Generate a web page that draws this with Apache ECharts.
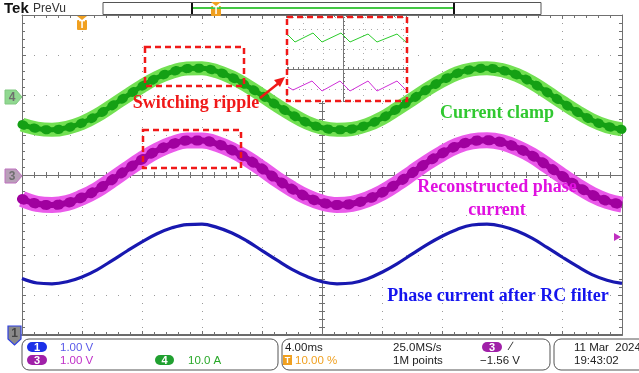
<!DOCTYPE html>
<html><head><meta charset="utf-8">
<script src="https://cdn.jsdelivr.net/npm/echarts@6/dist/echarts.min.js"></script>
<style>html,body{margin:0;padding:0;background:#fff}#c{width:639px;height:373px}</style>
</head><body><div id="c"></div><script>
// Horizontal position in divisions (4.00 ms/div), 0 = screen centre, read every 1/4 division
const timeDiv = [-5,-4.75,-4.5,-4.25,-4,-3.75,-3.5,-3.25,-3,-2.75,-2.5,-2.25,-2,-1.75,-1.5,-1.25,-1,-0.75,-0.5,-0.25,
  0,0.25,0.5,0.75,1,1.25,1.5,1.75,2,2.25,2.5,2.75,3,3.25,3.5,3.75,4,4.25,4.5,4.75,5];
// Ch4 current clamp, vertical divisions
const clampCurrent = [1.26,1.16,1.13,1.18,1.30,1.49,1.73,1.98,2.22,2.43,2.58,2.66,2.67,2.59,2.44,2.23,1.99,1.74,1.51,1.31,
  1.18,1.13,1.15,1.25,1.42,1.65,1.89,2.14,2.36,2.54,2.64,2.67,2.62,2.50,2.31,2.07,1.82,1.58,1.37,1.22,1.14];
// Ch3 reconstructed phase current
const reconCurrent = [-0.60,-0.72,-0.75,-0.70,-0.56,-0.37,-0.12,0.14,0.39,0.61,0.77,0.86,0.86,0.78,0.62,0.41,0.16,-0.11,-0.35,-0.55,
  -0.69,-0.75,-0.72,-0.61,-0.44,-0.21,0.05,0.31,0.54,0.73,0.84,0.87,0.82,0.68,0.49,0.24,-0.02,-0.27,-0.49,-0.65,-0.74];
// Ch1 phase current after RC filter
const filteredCurrent = [-2.59,-2.70,-2.72,-2.67,-2.55,-2.37,-2.14,-1.90,-1.67,-1.47,-1.32,-1.24,-1.23,-1.31,-1.45,-1.65,-1.89,-2.13,-2.36,-2.54,
  -2.67,-2.72,-2.70,-2.60,-2.43,-2.22,-1.98,-1.74,-1.53,-1.36,-1.25,-1.23,-1.28,-1.40,-1.58,-1.81,-2.05,-2.28,-2.49,-2.63,-2.71];

// Zoomed view of the switching ripple
const zoomClampT = [-2.75,-2.4,-1.5,-1.05,-0.1,0.35,1.25,1.7,2.7,3.2];
const zoomClampV = [1.7,1.35,1.8,1.35,1.8,1.35,1.75,1.35,1.75,1.3];
const zoomReconT = [-2.75,-2.5,-1.55,-1.05,-0.15,0.35,1.25,1.7,2.7,3.2];
const zoomReconV = [-0.9,-1.05,-0.6,-1.1,-0.6,-1.1,-0.6,-1.1,-0.6,-1.1];

const pairs = (xs, ys) => xs.map((x, i) => [x, ys[i]]);

const FRAME = '#707070', GRIDC = '#9a9a9a';

function xAx(extra) {
  return Object.assign({
    type: 'value', gridIndex: 0, min: -5, max: 5, interval: 1,
    axisLabel: { show: false },
    axisLine: { show: true, onZero: false, lineStyle: { color: FRAME, width: 1 } },
    axisTick: { show: true, inside: true, length: 4, lineStyle: { color: FRAME } },
    minorTick: { show: true, splitNumber: 5, length: 3, lineStyle: { color: FRAME } },
    splitLine: { show: false }
  }, extra);
}
function yAx(extra) {
  return Object.assign({
    type: 'value', gridIndex: 0, min: -4, max: 4, interval: 1,
    axisLabel: { show: false },
    axisLine: { show: true, onZero: false, lineStyle: { color: FRAME, width: 1 } },
    axisTick: { show: true, inside: true, length: 4, lineStyle: { color: FRAME } },
    minorTick: { show: true, splitNumber: 5, length: 3, lineStyle: { color: FRAME } },
    splitLine: { show: false }
  }, extra);
}
const centreLine = (idx) => ({ show: true, onZero: true, onZeroAxisIndex: idx, lineStyle: { color: FRAME, width: 1 } });

const xAxis = [
  xAx({ position: 'bottom', axisLine: { show: true, onZero: false, lineStyle: { color: '#6a6a6a', width: 2 } },
        splitLine: { show: true, lineStyle: { color: GRIDC, width: 1, type: [1, 7] } } }),
  xAx({ position: 'top' }),
  xAx({ position: 'bottom', axisLine: centreLine(0), axisTick: { show: true, inside: true, length: 3, lineStyle: { color: FRAME } } }),
  xAx({ position: 'bottom', axisLine: centreLine(0), axisTick: { show: true, inside: false, length: 3, lineStyle: { color: FRAME } } }),
  // zoomed view
  { type: 'value', gridIndex: 1, min: -2.8, max: 3.2, z: 5, axisLabel: { show: false },
    axisLine: { show: true, onZero: true, onZeroAxisIndex: 4, lineStyle: { color: '#777' } },
    axisTick: { show: true, inside: true, length: 2, lineStyle: { color: '#777' } },
    minorTick: { show: true, splitNumber: 4, length: 2, lineStyle: { color: '#777' } },
    splitLine: { show: true, lineStyle: { color: '#aaa', type: [1, 5] } } },
  { type: 'value', gridIndex: 1, min: -2.8, max: 3.2, z: 5, axisLabel: { show: false },
    axisLine: { show: true, onZero: true, onZeroAxisIndex: 4, lineStyle: { color: '#777' } },
    axisTick: { show: true, inside: false, length: 2, lineStyle: { color: '#777' } },
    minorTick: { show: true, splitNumber: 4, length: 2, lineStyle: { color: '#777' } },
    splitLine: { show: false } }
];
const yAxis = [
  yAx({ position: 'left', splitLine: { show: true, lineStyle: { color: GRIDC, width: 1, type: [1, 11] } } }),
  yAx({ position: 'right' }),
  yAx({ position: 'left', axisLine: centreLine(0), axisTick: { show: true, inside: true, length: 3, lineStyle: { color: FRAME } } }),
  yAx({ position: 'left', axisLine: centreLine(0), axisTick: { show: true, inside: false, length: 3, lineStyle: { color: FRAME } } }),
  { type: 'value', gridIndex: 1, min: -1.6, max: 2.6, z: 5, axisLabel: { show: false },
    axisLine: { show: true, onZero: true, onZeroAxisIndex: 4, lineStyle: { color: '#777' } },
    axisTick: { show: true, inside: true, length: 2, lineStyle: { color: '#777' } },
    minorTick: { show: true, splitNumber: 5, length: 2, lineStyle: { color: '#777' } },
    splitLine: { show: true, lineStyle: { color: '#aaa', type: [1, 5] } } },
  { type: 'value', gridIndex: 1, min: -1.6, max: 2.6, z: 5, axisLabel: { show: false },
    axisLine: { show: true, onZero: true, onZeroAxisIndex: 4, lineStyle: { color: '#777' } },
    axisTick: { show: true, inside: false, length: 2, lineStyle: { color: '#777' } },
    minorTick: { show: true, splitNumber: 5, length: 2, lineStyle: { color: '#777' } },
    splitLine: { show: false } }
];

function trace(data, lineStyle, z) {
  return {
    type: 'line', xAxisIndex: 0, yAxisIndex: 0, data: data, smooth: 0.4,
    showSymbol: false, symbol: 'none', silent: true, z: z || 3, clip: true,
    lineStyle: Object.assign({ cap: 'butt', join: 'round' }, lineStyle)
  };
}

// each ripple trace: light envelope, dark core and the dark beads of the PWM ripple
function rippleTrace(data, light, dark, w) {
  return [
    trace(data, { color: light, width: w }),
    trace(data, { color: dark, width: Math.round(w * 0.35) }),
    trace(data, { color: dark, width: Math.round(w * 0.62), type: [2, 10], cap: 'round' })
  ];
}

const series = [].concat(
  rippleTrace(pairs(timeDiv, clampCurrent), '#72e052', '#14a014', 14),
  rippleTrace(pairs(timeDiv, reconCurrent), '#ea5aea', '#a0009f', 16),
  [ trace(pairs(timeDiv, filteredCurrent), { color: '#1818b0', width: 3.2 }),
    { type: 'line', xAxisIndex: 4, yAxisIndex: 4, data: pairs(zoomClampT, zoomClampV), showSymbol: false, symbol: 'none', z: 6,
      lineStyle: { color: '#2ccc2c', width: 1 } },
    { type: 'line', xAxisIndex: 4, yAxisIndex: 4, data: pairs(zoomReconT, zoomReconV), showSymbol: false, symbol: 'none', z: 6,
      lineStyle: { color: '#d030d8', width: 1 } } ]
);

const RED = '#f01818';
const sans = '"Liberation Sans", Arial, sans-serif';
const serif = '"Liberation Serif", "Times New Roman", serif';

function txt(x, y, s, color, size) {
  return { type: 'text', x: x, y: y, z: 20,
    style: { text: s, fill: color, font: size + 'px ' + sans, textVerticalAlign: 'middle' } };
}
function pill(x, y, w, h, fill, label) {
  return [
    { type: 'rect', shape: { x: x, y: y, width: w, height: h, r: h / 2 }, style: { fill: fill }, z: 20 },
    { type: 'text', x: x + w / 2, y: y + h / 2 + 0.5, z: 21, style: { text: label, fill: '#fff', font: 'bold 11px ' + sans, textAlign: 'center', textVerticalAlign: 'middle' } }
  ];
}
function panel(x, y, w, h) {
  return { type: 'rect', shape: { x: x, y: y, width: w, height: h, r: 7 }, style: { fill: '#fff', stroke: '#555', lineWidth: 1 }, z: 15 };
}
function chMarker(y, fill, stroke, label) {
  return [
    { type: 'polygon', shape: { points: [[5, y - 7], [16, y - 7], [22, y], [16, y + 7], [5, y + 7]] }, style: { fill: fill, stroke: stroke, lineWidth: 1 }, z: 20 },
    { type: 'text', x: 12, y: y + 0.5, z: 21, style: { text: label, fill: '#6e6e6e', font: 'bold 12px ' + sans, textAlign: 'center', textVerticalAlign: 'middle' } }
  ];
}
function trigT(x, y) {
  return [
    { type: 'polygon', shape: { points: [[x - 5, y], [x + 5, y], [x, y + 4]] }, style: { fill: '#f0a020' }, z: 20 },
    { type: 'rect', shape: { x: x - 5, y: y + 4, width: 10, height: 10, r: 1 }, style: { fill: '#f0a020' }, z: 20 },
    { type: 'text', x: x, y: y + 9.5, z: 21, style: { text: 'T', fill: '#fff', font: 'bold 10px ' + sans, textAlign: 'center', textVerticalAlign: 'middle' } }
  ];
}
function dashBox(x, y, w, h) {
  return { type: 'rect', shape: { x: x, y: y, width: w, height: h }, style: { fill: null, stroke: RED, lineWidth: 2.5, lineDash: [6, 4] }, z: 12 };
}
function note(x, y, s, color) {
  return { type: 'text', x: x, y: y, z: 12, style: { text: s, fill: color, font: 'bold 18px ' + serif, textAlign: 'center', textVerticalAlign: 'middle' } };
}

const graphic = [].concat(
  // header
  [ { type: 'text', x: 4, y: 9, z: 20, style: { text: 'Tek', fill: '#111', font: 'bold 15px ' + sans, textVerticalAlign: 'middle' } },
    { type: 'text', x: 33, y: 8.5, z: 20, style: { text: 'PreVu', fill: '#333', font: '12px ' + sans, textVerticalAlign: 'middle' } },
    { type: 'rect', shape: { x: 103, y: 2.5, width: 438, height: 12 }, style: { fill: '#fff', stroke: '#555', lineWidth: 1 }, z: 20 },
    { type: 'line', shape: { x1: 192, y1: 8, x2: 454, y2: 8 }, style: { stroke: '#44c844', lineWidth: 2 }, z: 21 },
    { type: 'line', shape: { x1: 192, y1: 3, x2: 192, y2: 14 }, style: { stroke: '#111', lineWidth: 2 }, z: 21 },
    { type: 'line', shape: { x1: 454, y1: 3, x2: 454, y2: 14 }, style: { stroke: '#111', lineWidth: 2 }, z: 21 } ],
  trigT(216, 2),
  trigT(82, 16),
  // channel markers
  chMarker(97, '#90d890', '#80c880', '4'),
  chMarker(176, '#b8a0b8', '#c070c0', '3'),
  [ { type: 'polygon', shape: { points: [[8, 326], [21, 326], [21, 339], [14.5, 345], [8, 339]] }, style: { fill: '#8a8a8a', stroke: '#3040e0', lineWidth: 1.2 }, z: 20 },
    { type: 'text', x: 14.5, y: 334, z: 21, style: { text: '1', fill: '#444', font: 'bold 12px ' + sans, textAlign: 'center', textVerticalAlign: 'middle' } },
    { type: 'polygon', shape: { points: [[621, 237], [614, 233], [614, 241]] }, style: { fill: '#c030c0' }, z: 20 } ],
  // zoomed view backdrop
  [ { type: 'rect', shape: { x: 287, y: 17, width: 120, height: 84 }, style: { fill: '#fff' }, z: 1 } ],
  // annotations
  [ dashBox(145, 47, 99, 39), dashBox(143, 130, 98, 38), dashBox(287, 17, 120, 84),
    { type: 'line', shape: { x1: 260, y1: 98, x2: 280, y2: 82 }, style: { stroke: RED, lineWidth: 2.5 }, z: 12 },
    { type: 'polygon', shape: { points: [[285, 77], [274, 80], [280, 87]] }, style: { fill: RED }, z: 12 },
    note(196, 103, 'Switching ripple', RED),
    note(497, 113, 'Current clamp', '#30c830'),
    note(497, 187, 'Reconstructed phase', '#e010e0'),
    note(497, 210, 'current', '#e010e0'),
    note(498, 296, 'Phase current after RC filter', '#1414ee') ],
  // status panels
  [ panel(22, 339, 256, 31), panel(282, 339, 268, 31), panel(554, 339, 100, 31) ],
  pill(27, 342, 20, 10, '#1c30e8', '1'),
  pill(27, 355, 20, 10, '#a020a8', '3'),
  pill(155, 355, 19, 10, '#20a030', '4'),
  pill(482, 342, 20, 10, '#a020a8', '3'),
  [ txt(60, 347.5, '1.00 V', '#5a5ae8', 11.5),
    txt(60, 360.5, '1.00 V', '#c030c8', 11.5),
    txt(188, 360.5, '10.0 A', '#28a828', 11.5),
    txt(285, 347.5, '4.00ms', '#222', 11.5),
    { type: 'rect', shape: { x: 283, y: 355, width: 9, height: 10 }, style: { fill: '#f0a020' }, z: 20 },
    { type: 'text', x: 287.5, y: 360.5, z: 21, style: { text: 'T', fill: '#fff', font: 'bold 9px ' + sans, textAlign: 'center', textVerticalAlign: 'middle' } },
    txt(295, 360.5, '10.00 %', '#f0a020', 11.5),
    txt(393, 347.5, '25.0MS/s', '#222', 11.5),
    txt(393, 360.5, '1M points', '#222', 11.5),
    txt(510, 347, '\u2215', '#222', 12),
    txt(480, 360.5, '\u22121.56 V', '#222', 11.5),
    txt(574, 347.5, '11 Mar  2024', '#222', 11.5),
    txt(574, 360.5, '19:43:02', '#222', 11.5) ]
);

const chart = echarts.init(document.getElementById('c'), null, { renderer: 'canvas' });
chart.setOption({
  animation: false,
  backgroundColor: '#fff',
  grid: [
    { left: 22, top: 15, width: 600, height: 320, show: false },
    { left: 287, top: 17, width: 120, height: 84, show: false }
  ],
  xAxis: xAxis,
  yAxis: yAxis,
  series: series,
  graphic: graphic
});
</script></body></html>
